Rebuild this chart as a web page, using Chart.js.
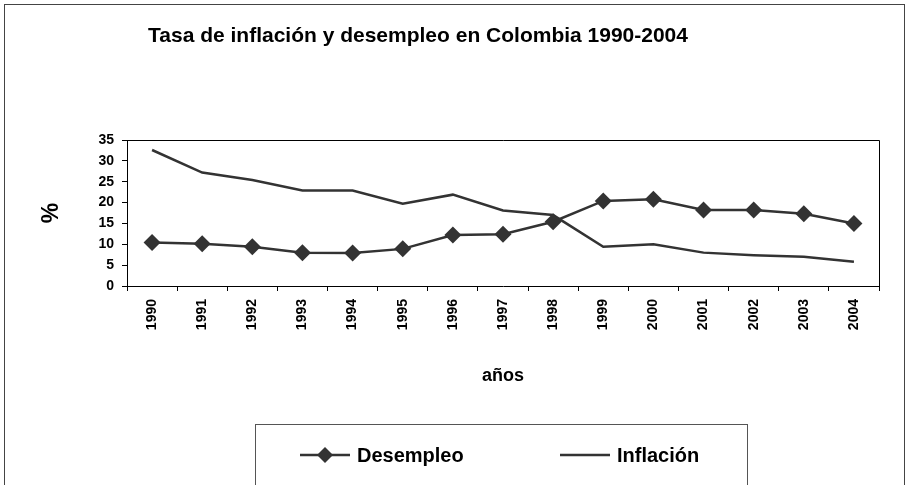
<!DOCTYPE html>
<html>
<head>
<meta charset="utf-8">
<script src="https://cdn.jsdelivr.net/npm/chart.js@4.4.0/dist/chart.umd.min.js"></script>
<style>
  html,body{margin:0;padding:0;background:#fff;}
  #wrap{width:909px;height:485px;position:relative;}
</style>
</head>
<body>
<div id="wrap"><canvas id="c" width="909" height="485"></canvas></div>
<script>
// ====== Datos ======
const anios     = ['1990','1991','1992','1993','1994','1995','1996','1997','1998','1999','2000','2001','2002','2003','2004'];
const desempleo = [10.4, 10.1, 9.4, 8.0, 7.9, 8.9, 12.2, 12.4, 15.4, 20.4, 20.8, 18.2, 18.2, 17.3, 15.0];
const inflacion = [32.6, 27.2, 25.4, 22.9, 22.9, 19.7, 21.9, 18.1, 17.0, 9.4, 10.0, 8.0, 7.4, 7.0, 5.8];
const yTicks    = [0, 5, 10, 15, 20, 25, 30, 35];
const titulo    = 'Tasa de inflación y desempleo en Colombia 1990-2004';

const FONT = '"Liberation Sans", Arial, sans-serif';
const GRIS = '#333333';

// ====== Marco, título, caja del área y leyenda ======
const extras = {
  id:'extras',
  afterDraw(chart){
    const ctx = chart.ctx, a = chart.chartArea;
    ctx.save();
    // marco exterior
    ctx.strokeStyle = '#444'; ctx.lineWidth = 1;
    ctx.strokeRect(4.5, 4.5, 900, 500);
    // borde arriba / derecha del área
    ctx.strokeStyle = '#000';
    ctx.beginPath();
    ctx.moveTo(a.left, a.top + .5); ctx.lineTo(a.right + .5, a.top + .5); ctx.lineTo(a.right + .5, a.bottom);
    ctx.stroke();
    // título
    ctx.fillStyle = '#000'; ctx.font = 'bold 21px ' + FONT;
    ctx.textBaseline = 'alphabetic'; ctx.textAlign = 'left';
    ctx.fillText(titulo, 148, 42);
    // leyenda
    ctx.strokeStyle = '#555'; ctx.lineWidth = 1;
    ctx.strokeRect(255.5, 424.5, 492, 80);
    const ds = chart.data.datasets, ly = 455;
    ctx.strokeStyle = GRIS; ctx.lineWidth = 2.5;
    ctx.beginPath(); ctx.moveTo(300, ly); ctx.lineTo(350, ly); ctx.stroke();
    ctx.fillStyle = GRIS;
    ctx.beginPath(); ctx.moveTo(325, ly - 8); ctx.lineTo(333, ly); ctx.lineTo(325, ly + 8); ctx.lineTo(317, ly); ctx.closePath(); ctx.fill();
    ctx.beginPath(); ctx.moveTo(560, ly); ctx.lineTo(610, ly); ctx.stroke();
    ctx.fillStyle = '#000'; ctx.font = 'bold 20px ' + FONT; ctx.textBaseline = 'middle';
    ctx.fillText(ds[0].label, 357, ly + 1);
    ctx.fillText(ds[1].label, 617, ly + 1);
    ctx.restore();
  }
};

new Chart(document.getElementById('c'), {
  type:'line',
  data:{
    labels: anios,
    datasets:[
      {label:'Desempleo', data:desempleo, borderColor:GRIS, backgroundColor:GRIS, borderWidth:2.5,
       pointStyle:'rectRot', pointRadius:8.5, pointHoverRadius:8.5, pointBorderWidth:0, tension:0},
      {label:'Inflación', data:inflacion, borderColor:GRIS, backgroundColor:GRIS, borderWidth:2.5,
       pointRadius:0, pointHoverRadius:0, tension:0}
    ]
  },
  options:{
    responsive:false, animation:false,
    layout:{ padding:{ top:140, right:30, bottom:89, left:0 } },
    plugins:{ legend:{display:false}, title:{display:false}, tooltip:{enabled:false} },
    scales:{
      x:{
        offset:true,
        afterFit: s => { s.height = 110; },
        grid:{ offset:true, drawOnChartArea:false, tickLength:5, color:'#000' },
        border:{ color:'#000', width:1 },
        ticks:{ color:'#000', font:{family:FONT, size:14, weight:'bold'}, maxRotation:90, minRotation:90, autoSkip:false, padding:8 },
        title:{ display:true, text:'años', color:'#000', font:{family:FONT, size:18, weight:'bold'}, padding:{top:0, bottom:9} }
      },
      y:{
        min:0, max:35,
        afterFit: s => { s.width = 127; },
        afterBuildTicks: s => { s.ticks = yTicks.map(v => ({value:v})); },
        grid:{ drawOnChartArea:false, tickLength:5, color:'#000' },
        border:{ color:'#000', width:1 },
        ticks:{ color:'#000', font:{family:FONT, size:14, weight:'bold'}, padding:8 },
        title:{ display:true, text:'%', color:'#000', font:{family:FONT, size:23, weight:'bold'}, padding:{top:38, bottom:0} }
      }
    }
  },
  plugins:[extras]
});
</script>
</body>
</html>
